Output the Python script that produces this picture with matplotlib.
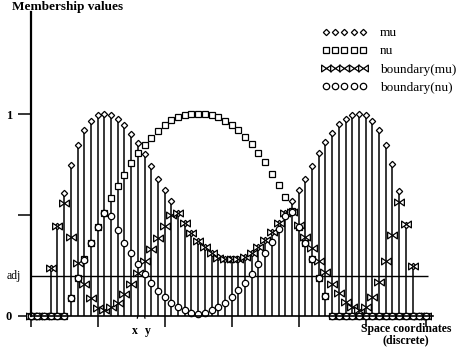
import numpy as np
import matplotlib.pyplot as plt
from matplotlib.path import Path

# membership values, one per discrete space coordinate (0..59)
mu = [0, 0, 0, 0.24, 0.445, 0.61, 0.746, 0.847, 0.919, 0.967,
      0.993, 1.0, 0.993, 0.975, 0.947, 0.902, 0.855, 0.80, 0.743, 0.68,
      0.624, 0.568, 0.51, 0.46, 0.41, 0.37, 0.34, 0.31, 0.29, 0.28,
      0.28, 0.28, 0.29, 0.31, 0.34, 0.376, 0.414, 0.46, 0.51, 0.57,
      0.624, 0.68, 0.744, 0.805, 0.86, 0.904, 0.95, 0.977, 0.993, 1.0,
      0.993, 0.967, 0.92, 0.847, 0.752, 0.62, 0.452, 0.249, 0, 0]
nu = [0, 0, 0, 0, 0, 0, 0.09, 0.19, 0.28, 0.36,
      0.44, 0.51, 0.583, 0.644, 0.70, 0.756, 0.805, 0.847, 0.88, 0.917,
      0.947, 0.97, 0.987, 0.997, 1.0, 1.0, 1.0, 0.995, 0.983, 0.967,
      0.946, 0.921, 0.885, 0.85, 0.806, 0.76, 0.703, 0.649, 0.587, 0.52,
      0.44, 0.36, 0.28, 0.19, 0.1, 0, 0, 0, 0, 0,
      0, 0, 0, 0, 0, 0, 0, 0, 0, 0]
bnd_mu = [0, 0, 0, 0.24, 0.445, 0.56, 0.39, 0.264, 0.16, 0.088,
          0.04, 0.03, 0.043, 0.066, 0.109, 0.16, 0.214, 0.272, 0.33, 0.388,
          0.446, 0.50, 0.51, 0.46, 0.41, 0.37, 0.34, 0.31, 0.286, 0.28,
          0.28, 0.28, 0.29, 0.31, 0.34, 0.376, 0.414, 0.46, 0.51, 0.517,
          0.45, 0.39, 0.335, 0.274, 0.216, 0.158, 0.112, 0.07, 0.043, 0.03,
          0.043, 0.092, 0.17, 0.27, 0.40, 0.566, 0.454, 0.249, 0, 0]
bnd_nu = [0, 0, 0, 0, 0, 0, 0.09, 0.19, 0.277, 0.36,
          0.44, 0.51, 0.495, 0.426, 0.363, 0.31, 0.257, 0.21, 0.165, 0.125,
          0.092, 0.066, 0.046, 0.03, 0.016, 0.008, 0.016, 0.03, 0.046, 0.066,
          0.096, 0.128, 0.165, 0.21, 0.257, 0.31, 0.368, 0.43, 0.495, 0.517,
          0.44, 0.36, 0.28, 0.19, 0.1, 0, 0, 0, 0, 0,
          0, 0, 0, 0, 0, 0, 0, 0, 0, 0]
adj = 0.2
x_ticks = [0, 10, 20, 30, 40, 50, 59]
marked_at = [16, 17]
marked_labels = ['x', 'y']

plt.rcParams['font.family'] = ['Liberation Serif', 'DejaVu Serif']

x = np.arange(len(mu))
mu_arr = np.array(mu)

fig = plt.figure(figsize=(4.57, 3.52), dpi=100)
ax = fig.add_axes([30.6 / 457, 36 / 352, 402 / 457, 304 / 352])
ax.set_xlim(0, 60)
ax.set_ylim(0, 1.505)

# stems for mu
pos = mu_arr > 0
ax.vlines(x[pos], 0, mu_arr[pos], color='black', lw=1.1)
ax.hlines(adj, 0, 59.3, color='black', lw=1)

# bowtie marker for boundary(mu)
bowtie = Path([(-1, -0.7), (-1, 0.7), (0, 0), (-1, -0.7),
               (1, -0.7), (1, 0.7), (0, 0), (1, -0.7)],
              [Path.MOVETO, Path.LINETO, Path.LINETO, Path.CLOSEPOLY,
               Path.MOVETO, Path.LINETO, Path.LINETO, Path.CLOSEPOLY])

style = dict(ls='none', mfc='white', mec='black', mew=0.9, clip_on=False)
ax.plot(x, mu, marker='D', ms=3.2, label='mu', **style)
ax.plot(x, nu, marker='s', ms=4.5, label='nu', **style)
ax.plot(x, bnd_mu, marker=bowtie, ms=7, label='boundary(mu)', **style)
ax.plot(x, bnd_nu, marker='o', ms=4.6, label='boundary(nu)', **style)

for s in ['top', 'right']:
    ax.spines[s].set_visible(False)
ax.spines['left'].set_linewidth(1.6)
ax.spines['bottom'].set_linewidth(1.2)

ax.set_yticks([0, 0.5, 1])
ax.set_yticklabels(['0', '', '1'], fontsize=9, fontweight='bold')
ax.tick_params(axis='y', direction='out', length=9.5, width=1.1, pad=4)
ax.set_xticks(x_ticks)
ax.set_xticklabels([])
ax.tick_params(axis='x', direction='out', length=8, width=1.1)

ax.text(-1.4, adj, 'adj', ha='right', va='center', fontsize=8.5, clip_on=False)

offsets = [-0.5, 0.5]
for p, lab, dx in zip(marked_at, marked_labels, offsets):
    ax.annotate(lab, xy=(p, 0), xytext=(p + dx, -0.075), ha='center', va='center',
                fontsize=8.5, fontweight='bold', annotation_clip=False,
                arrowprops=dict(arrowstyle='-', lw=0.9, shrinkA=3, shrinkB=0))

ax.legend(numpoints=5, frameon=False, loc='upper left',
          bbox_to_anchor=(322 / 457, 1 - 27 / 352), bbox_transform=fig.transFigure,
          handlelength=3.4, handletextpad=1.0, labelspacing=0.45,
          borderpad=0, borderaxespad=0, prop={'size': 9.5})

fig.text(12 / 457, 1 - 7 / 352, 'Membership values', fontsize=9.5,
         fontweight='bold', ha='left', va='center')
fig.text(406 / 457, 1 - 335 / 352, 'Space coordinates\n(discrete)', ha='center',
         va='center', fontsize=8.5, fontweight='bold', linespacing=0.9)

fig.savefig('out.png', dpi=100)
